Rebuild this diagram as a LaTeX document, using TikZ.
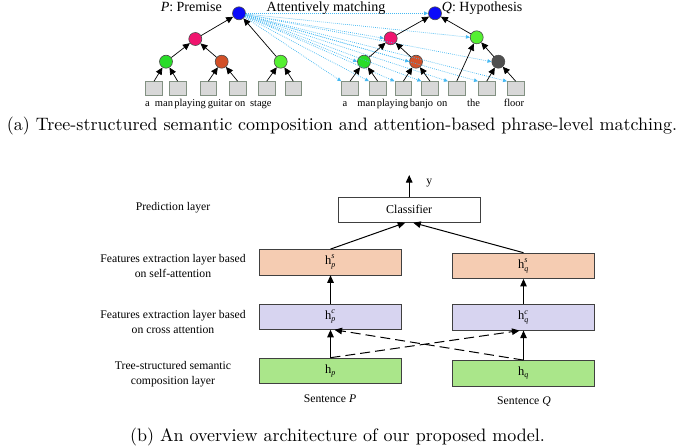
\documentclass[tikz,border=0pt]{standalone}
\usepackage{fontspec}
\usepackage{graphicx}
\usetikzlibrary{arrows.meta}
\newfontfamily\tms{Liberation Serif}
\definecolor{nblue}{RGB}{10,10,250}
\definecolor{npink}{RGB}{240,20,110}
\definecolor{ngreen}{RGB}{40,220,40}
\definecolor{ngreenl}{RGB}{85,240,50}
\definecolor{nbrown}{RGB}{210,80,40}
\definecolor{ngray}{RGB}{80,80,80}
\definecolor{leaffill}{RGB}{216,216,216}
\definecolor{leafdraw}{RGB}{130,145,130}
\definecolor{attblue}{RGB}{70,185,242}
\definecolor{salmon}{RGB}{245,204,178}
\definecolor{lav}{RGB}{215,212,240}
\definecolor{lgreen}{RGB}{170,230,138}
\newcommand{\scr}[1]{\mbox{\fontsize{8}{8}\selectfont\itshape #1}}
\newcommand{\hsym}[2]{$\mbox{h}^{\scr{#2}}_{\scr{#1}}$}
\newcommand{\hsub}[1]{$\mbox{h}_{\scr{#1}}$}
\begin{document}
\begin{tikzpicture}[x=1pt,y=-1pt,
  tn/.style={circle, draw=gray!60!black, line width=0.6pt, minimum size=13pt, inner sep=0pt},
  leaf/.style={rectangle, draw=leafdraw, fill=leaffill, line width=0.8pt, minimum width=16.6pt, minimum height=13.3pt, inner sep=0pt},
  tarr/.style={-{Triangle[length=7pt,width=6.5pt]}, line width=0.7pt, black},
  att/.style={attblue, line width=0.7pt, dash pattern=on 0.8pt off 1.2pt, -{Triangle[length=4pt,width=3.5pt]}},
  word/.style={font=\tms\fontsize{10.5}{12}\selectfont, anchor=base, inner sep=0pt},
  head/.style={font=\tms\fontsize{14}{16}\selectfont, inner sep=0pt},
  box/.style={draw=black!75, line width=0.8pt, minimum width=142.4pt, minimum height=25.4pt, inner sep=0pt, font=\tms\fontsize{12.5}{14}\selectfont},
  lbl/.style={font=\tms\fontsize{11.7}{15}\selectfont, align=center, inner sep=0pt},
  barr/.style={-{Triangle[length=7.5pt,width=6.5pt]}, line width=1pt, black},
  captxt/.style={inner sep=0pt}
]
\useasboundingbox (0,0) rectangle (685,447);

% ---------- trees ----------
\foreach \n/\x in {Pa/154,Pman/177.7,Pplay/208.3,Pguit/237.7,Pon/266.7,Pst/293.3,
                   Qa/350,Qman/377.7,Qplay/403.3,Qban/430,Qon/456.7,Qthe/486.7,Qfl/515.7}
  \node[leaf] (\n) at (\x,88.3) {};
\node[tn, fill=ngreen]  (Pg1) at (166,61.7) {};
\node[tn, fill=nbrown]  (Pbr) at (221.7,61.7) {};
\node[tn, fill=ngreenl] (Pg2) at (280.7,61.7) {};
\node[tn, fill=npink]   (Ppk) at (195.3,39) {};
\node[tn, fill=nblue]   (Pr)  at (239,13.3) {};

\node[tn, fill=ngreen]  (Qg1) at (364,61.7) {};
\node[tn, fill=nbrown]  (Qbr) at (416,61.7) {};
\node[tn, fill=ngray]   (Qgy) at (498.3,61.7) {};
\node[tn, fill=npink]   (Qpk) at (390.7,38.3) {};
\node[tn, fill=ngreenl] (Qg2) at (476.7,37.3) {};
\node[tn, fill=nblue]   (Qr)  at (435,13.3) {};

% attention lines
\foreach \t in {Qr,Qpk,Qg1,Qbr,Qg2,Qgy}
  \draw[att] (Pr) -- (\t.west);
\foreach \t in {Qa,Qman,Qplay,Qban,Qon,Qthe,Qfl}
  \draw[att] (Pr) -- (\t.north west);

% tree edges
\draw[tarr] (Pa.north) -- (Pg1);
\draw[tarr] (Pman.north) -- (Pg1);
\draw[tarr] (Pplay.north) -- (Pbr);
\draw[tarr] (Pguit.north) -- (Pbr);
\draw[tarr] (Pon.north) -- (Pg2);
\draw[tarr] (Pst.north) -- (Pg2);
\draw[tarr] (Pg1) -- (Ppk);
\draw[tarr] (Pbr) -- (Ppk);
\draw[tarr] (Ppk) -- (Pr);
\draw[tarr] (Pg2) -- (Pr);

\draw[tarr] (Qa.north) -- (Qg1);
\draw[tarr] (Qman.north) -- (Qg1);
\draw[tarr] (Qplay.north) -- (Qbr);
\draw[tarr] (Qban.north) -- (Qbr);
\draw[tarr] (Qthe.north) -- (Qgy);
\draw[tarr] (Qfl.north) -- (Qgy);
\draw[tarr] (Qon.north) -- (Qg2);
\draw[tarr] (Qgy) -- (Qg2);
\draw[tarr] (Qg1) -- (Qpk);
\draw[tarr] (Qbr) -- (Qpk);
\draw[tarr] (Qpk) -- (Qr);
\draw[tarr] (Qg2) -- (Qr);

% words
\foreach \n/\x/\w in {wPa/147.5/a,wPm/164/man,wPp/190/playing,wPg/220/guitar,wPo/240/on,wPs/260.8/stage,
                      wQa/345/a,wQm/366.5/man,wQp/392.5/playing,wQb/421.5/banjo,wQo/442/on,wQt/473.5/the,wQf/514/floor}
  \node[word] (\n) at (\x,106) {\w};

\node[head, anchor=base east] (hP) at (222,11.8) {\textit{P}: Premise};
\node[head, anchor=base] (hA) at (326,11.8) {Attentively matching};
\node[head, anchor=base west] (hQ) at (441.7,11.8) {\textit{Q}: Hypothesis};

\node[captxt] (capa) at (342,126) {\scalebox{1.8}{(a) Tree-structured semantic composition and attention-based phrase-level matching.}};

% ---------- architecture ----------
\node[box, fill=white, minimum width=141.7pt, font=\tms\fontsize{12}{14}\selectfont] (cls) at (409.2,209.6) {Classifier};
\node[box, fill=salmon] (hps) at (330.5,262.2) {\hsym{p}{s}};
\node[box, fill=salmon] (hqs) at (523.5,265.8) {\hsym{q}{s}};
\node[box, fill=lav]    (hpc) at (330.5,316.7) {\hsym{p}{c}};
\node[box, fill=lav]    (hqc) at (523.5,317.5) {\hsym{q}{c}};
\node[box, fill=lgreen] (hp)  at (330.5,370.8) {\hsub{p}};
\node[box, fill=lgreen] (hq)  at (523.5,373.2) {\hsub{q}};

\coordinate (yend) at (409.2,175);
\draw[barr] (cls.north) -- (yend);
\node[lbl] (ylab) at (429.3,182.7) {y};

\draw[barr] (hps.north) -- ([xshift=-4pt]cls.south);
\draw[barr] (hqs.north) -- ([xshift=4pt]cls.south);
\draw[barr] (hpc.north) -- (hps.south);
\draw[barr] (hqc.north) -- (hqs.south);
\draw[barr] (hp.north) -- (hpc.south);
\draw[barr] (hq.north) -- (hqc.south);
\draw[barr, dash pattern=on 10pt off 5pt] (hp.north) -- ([xshift=-4pt]hqc.south);
\draw[barr, dash pattern=on 10pt off 5pt] (hq.north) -- ([xshift=4pt]hpc.south);

\node[lbl] (sP) at (330,398.3) {Sentence \textit{P}};
\node[lbl] (sQ) at (524,401.7) {Sentence \textit{Q}};

\node[lbl] (l1) at (173,207.7) {Prediction layer};
\node[lbl] (l2) at (173,265.8) {Features extraction layer based\\on self-attention};
\node[lbl] (l3) at (173,322.2) {Features extraction layer based\\on cross attention};
\node[lbl] (l4) at (173,374.2) {Tree-structured semantic\\composition layer};

\node[captxt] (capb) at (337.5,436.7) {\scalebox{1.8}{(b) An overview architecture of our proposed model.}};
\end{tikzpicture}
\end{document}
